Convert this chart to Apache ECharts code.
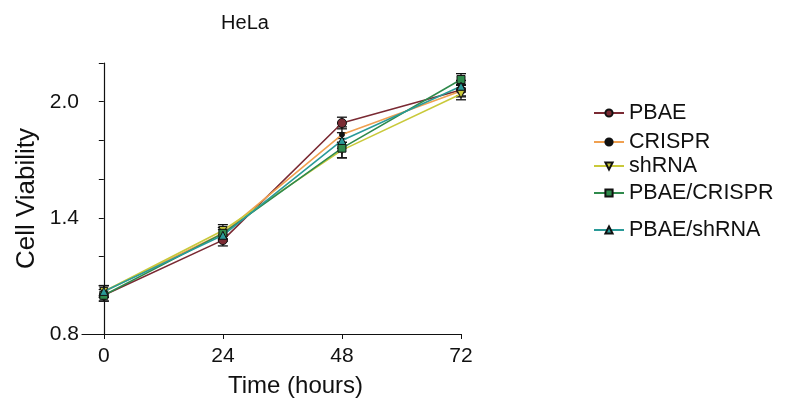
<!DOCTYPE html>
<html>
<head>
<meta charset="utf-8">
<script src="https://cdn.jsdelivr.net/npm/echarts@6/dist/echarts.min.js"></script>
<style>
  html, body { margin: 0; padding: 0; background: #fff; }
  #chart { width: 793px; height: 408px; }
</style>
</head>
<body>
<div id="chart"></div>
<script>
// time points (hours)
const hours = [0, 24, 48, 72];
const xTicks = [0, 24, 48, 72];
const yLabels = [0.8, 1.4, 2.0];

// mean cell viability per group
const pbae = [1.00, 1.285, 1.89, 2.06];
const crispr = [1.02, 1.32, 1.83, 2.055];
const shrna = [1.02, 1.335, 1.75, 2.04];
const pbaeCrispr = [1.00, 1.32, 1.76, 2.115];
const pbaeShrna = [1.02, 1.31, 1.80, 2.08];

// error bars (+/-)
const pbaeErr = [0.03, 0.03, 0.03, 0.03];
const crisprErr = [0.03, 0.03, 0.04, 0.03];
const shrnaErr = [0.03, 0.03, 0.04, 0.03];
const pbaeCrisprErr = [0.03, 0.03, 0.05, 0.03];
const pbaeShrnaErr = [0.03, 0.03, 0.04, 0.03];

const groups = [
  { name: 'PBAE', vals: pbae, err: pbaeErr, color: '#7a2a33', symbol: 'circle', size: 9, fill: '#7a2a33' },
  { name: 'CRISPR', vals: crispr, err: crisprErr, color: '#f0a050', symbol: 'circle', size: 5, fill: '#111' },
  { name: 'shRNA', vals: shrna, err: shrnaErr, color: '#c9c93a', symbol: 'path://M0,0L10,0L5,9Z', size: 8, fill: '#c9c93a' },
  { name: 'PBAE/CRISPR', vals: pbaeCrispr, err: pbaeCrisprErr, color: '#2f8a4c', symbol: 'rect', size: 8, fill: '#2f8a4c' },
  { name: 'PBAE/shRNA', vals: pbaeShrna, err: pbaeShrnaErr, color: '#2a9a98', symbol: 'triangle', size: 8, fill: '#2a9a98' }
];

const legendTops = [97, 126, 150, 177, 214];

const chart = echarts.init(document.getElementById('chart'));

const series = [];
groups.forEach(function (g) {
  series.push({
    type: 'custom',
    name: g.name + ' err',
    silent: true,
    z: 3,
    data: hours.map(function (h, i) { return [h, g.vals[i] - g.err[i], g.vals[i] + g.err[i]]; }),
    renderItem: function (params, api) {
      const lo = api.coord([api.value(0), api.value(1)]);
      const hi = api.coord([api.value(0), api.value(2)]);
      const w = 5;
      const st = { stroke: '#111', lineWidth: 1.3 };
      return {
        type: 'group',
        children: [
          { type: 'line', shape: { x1: lo[0], y1: lo[1], x2: hi[0], y2: hi[1] }, style: st },
          { type: 'line', shape: { x1: lo[0] - w, y1: lo[1], x2: lo[0] + w, y2: lo[1] }, style: st },
          { type: 'line', shape: { x1: hi[0] - w, y1: hi[1], x2: hi[0] + w, y2: hi[1] }, style: st }
        ]
      };
    }
  });
  series.push({
    type: 'line',
    name: g.name,
    data: hours.map(function (h, i) { return [h, g.vals[i]]; }),
    symbol: g.symbol,
    symbolSize: g.size,
    z: 4,
    lineStyle: { color: g.color, width: 1.6 },
    itemStyle: { color: g.fill, borderColor: '#111', borderWidth: 1 },
    color: g.color
  });
});

const legends = groups.map(function (g, i) {
  return {
    data: [g.name],
    left: 588,
    top: legendTops[i],
    itemWidth: 30,
    itemHeight: 9,
    itemGap: 4,
    textStyle: { fontSize: 21.5, color: '#111', fontFamily: 'Liberation Sans, Arial, sans-serif' }
  };
});

const option = {
  animation: false,
  backgroundColor: '#fff',
  textStyle: { fontFamily: 'Liberation Sans, Arial, sans-serif' },
  title: {
    text: 'HeLa',
    left: 240,
    top: 8,
    textAlign: 'center',
    textStyle: { fontSize: 20, fontWeight: 'normal', color: '#111' }
  },
  legend: legends,
  grid: { left: 82, right: 332, top: 63, bottom: 74, containLabel: false },
  xAxis: {
    type: 'value',
    min: -4.4,
    max: 72,
    name: 'Time (hours)',
    nameLocation: 'middle',
    nameGap: 40,
    nameTextStyle: { fontSize: 24, color: '#111', padding: [0, 0, 0, 48] },
    axisLine: { lineStyle: { color: '#111', width: 1.2 } },
    axisTick: { show: true, length: 5, lineStyle: { color: '#111' }, customValues: xTicks },
    axisLabel: { fontSize: 21, color: '#111', margin: 12, customValues: xTicks },
    splitLine: { show: false }
  },
  yAxis: {
    type: 'value',
    min: 0.8,
    max: 2.2,
    interval: 0.2,
    name: 'Cell Viability',
    nameLocation: 'middle',
    nameGap: 42,
    nameTextStyle: { fontSize: 26, color: '#111' },
    axisLine: { show: true, lineStyle: { color: '#111', width: 1.2 } },
    axisTick: { show: true, length: 5, lineStyle: { color: '#111' } },
    axisLabel: {
      fontSize: 21, color: '#111', margin: 3,
      customValues: yLabels,
      formatter: function (v) { return v.toFixed(1); }
    },
    splitLine: { show: false }
  },
  series: series
};

chart.setOption(option);
</script>
</body>
</html>
